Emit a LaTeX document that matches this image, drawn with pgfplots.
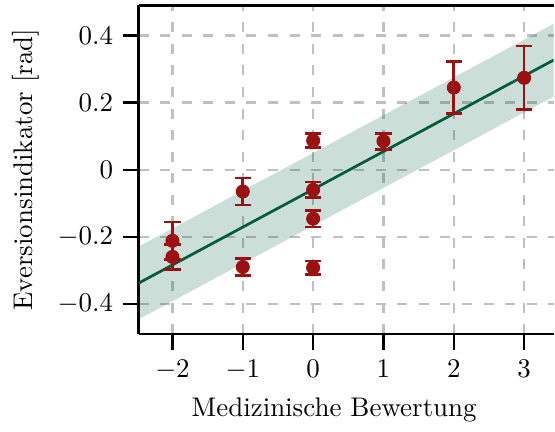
\documentclass[border=0pt]{standalone}
\usepackage{pgfplots}
\pgfplotsset{compat=1.18}
\usepgfplotslibrary{fillbetween}
\definecolor{dred}{RGB}{155,17,17}
\definecolor{dgreen}{RGB}{0,90,60}
\definecolor{gridgray}{RGB}{192,192,192}
\begin{document}
\begin{tikzpicture}
\begin{axis}[
  scale only axis,
  width=154pt, height=122pt,
  xmin=-2.48, xmax=3.42,
  ymin=-0.49, ymax=0.49,
  axis x line*=box, axis y line*=left,
  xtick pos=bottom, ytick pos=left,
  axis line style={line width=1pt},
  tick align=outside,
  major tick style={line width=0.9pt, black},
  major tick length=6pt,
  xtick={-2,-1,0,1,2,3},
  ytick={-0.4,-0.2,0,0.2,0.4},
  yticklabel style={/pgf/number format/fixed,/pgf/number format/precision=1},
  grid=major,
  major grid style={gridgray, line width=0.85pt, dash pattern=on 3.7pt off 4.3pt},
  xlabel={Medizinische Bewertung},
  xlabel style={at={(ticklabel cs:0.471)}},
  ylabel={Eversionsindikator [rad]},
  clip=true,
]
\addplot[name path=upper, draw=none, forget plot] coordinates {(-2.48,-0.229) (3.42,0.435)};
\addplot[name path=lower, draw=none, forget plot] coordinates {(-2.48,-0.446) (3.42,0.218)};
\addplot[dgreen, fill opacity=0.2, draw=none] fill between[of=upper and lower];
\addplot[dgreen, line width=1pt] coordinates {(-2.48,-0.338) (3.42,0.327)};
\addplot[only marks, mark=*, mark size=2.4pt, color=dred,
  error bars/.cd, y dir=both, y explicit,
  error bar style={line width=1pt, dred},
  error mark options={rotate=90, mark size=3pt, line width=1pt, dred}]
  table[x=x, y=y, y error=e] {
x y e
-2 -0.212 0.056
-2 -0.260 0.038
-1 -0.065 0.040
-1 -0.290 0.025
0 0.087 0.021
0 -0.060 0.023
0 -0.146 0.025
0 -0.292 0.020
1 0.085 0.024
2 0.245 0.078
3 0.274 0.095
};
\end{axis}
\path ([yshift=2pt]current axis.north west);
\path ([xshift=-1.2pt]current bounding box.south west);
\end{tikzpicture}
\end{document}
